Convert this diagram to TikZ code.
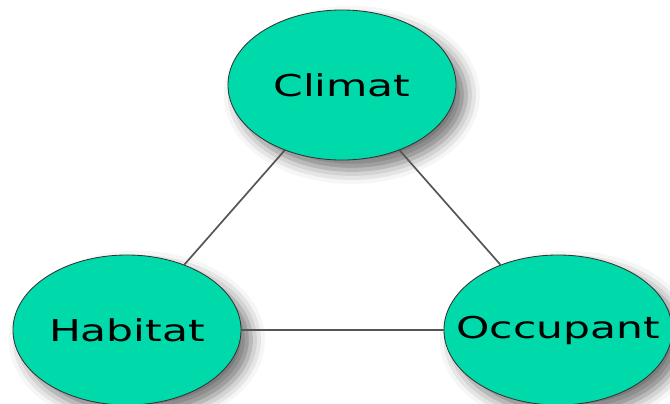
\documentclass[tikz,border=0pt]{standalone}
\usepackage{fontspec}
\setmainfont{DejaVu Sans}
\usetikzlibrary{shapes.geometric,shadows.blur}
\definecolor{turquoise}{RGB}{0,217,170}
\definecolor{trait}{RGB}{85,85,85}
\newcommand{\etiq}[1]{\makebox[0pt]{\scalebox{1.41}[1]{#1}}}

\begin{document}
\begin{tikzpicture}[x=0.025cm, y=-0.025cm,
        pole/.style={ellipse, draw=black!80, line width=0.6pt, fill=turquoise,
            minimum width=5.7cm, minimum height=3.75cm, inner sep=0pt,
            font=\fontsize{21.4}{24}\selectfont,
            blur shadow={shadow xshift=7pt, shadow yshift=-7pt, shadow blur radius=10pt, shadow opacity=55}},
        lien/.style={draw=trait, line width=1.2pt}]
        \useasboundingbox (0,0) rectangle (670,403);

        % Poles
        \node[pole] (climat) at (342,85) {\etiq{Climat}};
        \node[pole] (habitat) at (127,330) {\etiq{Habitat}};
        \node[pole] (occupant) at (558,330) {\etiq{Occupant}};

        % Liens
        \draw[lien] (climat) -- (habitat);
        \draw[lien] (climat) -- (occupant);
        \draw[lien] (habitat) -- (occupant);
    \end{tikzpicture}
\end{document}
